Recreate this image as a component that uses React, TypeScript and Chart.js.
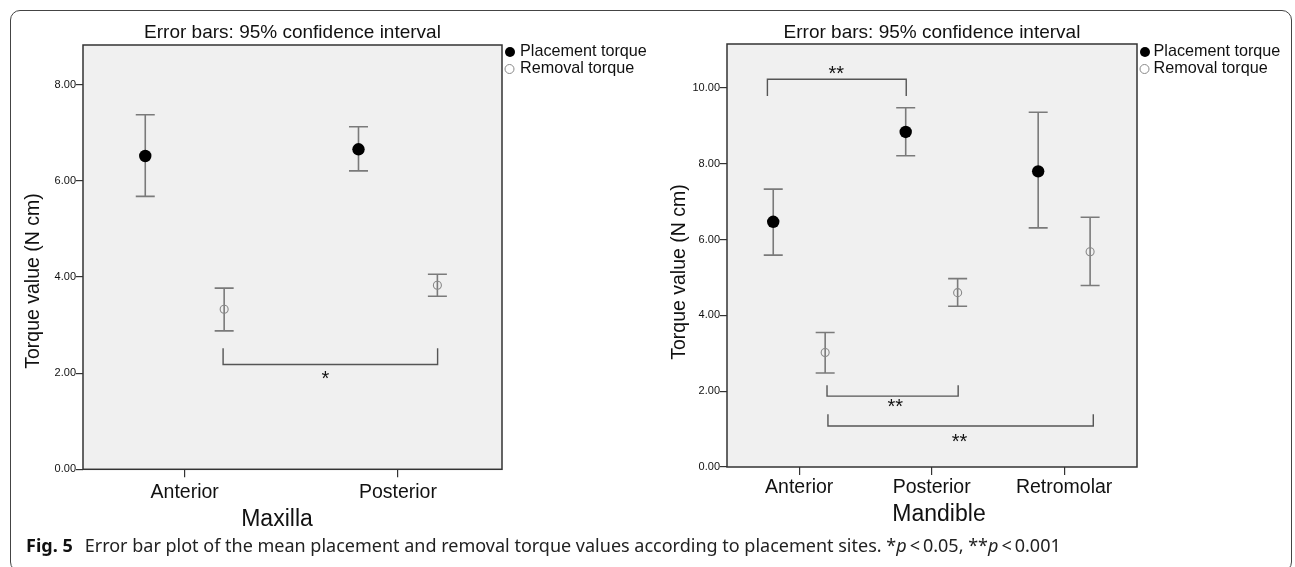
import React, { useEffect, useRef } from 'react';
import { Chart, registerables } from 'chart.js';

Chart.register(...registerables);

// ---------- data ----------
const seriesNames = ['Placement torque', 'Removal torque'];
const chartTitle = 'Error bars: 95% confidence interval';
const yAxisTitle = 'Torque value (N cm)';

const maxillaSites = ['Anterior', 'Posterior'];
const maxillaPlacementMean = [6.52, 6.66];
const maxillaPlacementLow = [5.68, 6.21];
const maxillaPlacementHigh = [7.38, 7.13];
const maxillaRemovalMean = [3.33, 3.83];
const maxillaRemovalLow = [2.88, 3.6];
const maxillaRemovalHigh = [3.77, 4.06];
const maxillaYTicks = [0, 2, 4, 6, 8];
const maxillaYMax = 8.83;

const mandibleSites = ['Anterior', 'Posterior', 'Retromolar'];
const mandiblePlacementMean = [6.47, 8.84, 7.8];
const mandiblePlacementLow = [5.59, 8.21, 6.31];
const mandiblePlacementHigh = [7.33, 9.48, 9.36];
const mandibleRemovalMean = [3.02, 4.6, 5.68];
const mandibleRemovalLow = [2.48, 4.24, 4.79];
const mandibleRemovalHigh = [3.55, 4.97, 6.59];
const mandibleYTicks = [0, 2, 4, 6, 8, 10];
const mandibleYMax = 11.16;

type Bracket = { from: number; to: number; level: number; end: number; mark: string; markX: number; markY: number };
const maxillaBrackets: Bracket[] = [
  { from: 0.18, to: 1.186, level: 2.18, end: 2.52, mark: '*', markX: 0.66, markY: 1.95 },
];
const mandibleBrackets: Bracket[] = [
  { from: -0.24, to: 0.808, level: 10.23, end: 9.79, mark: '**', markX: 0.28, markY: 10.45 },
  { from: 0.21, to: 1.2, level: 1.87, end: 2.16, mark: '**', markX: 0.725, markY: 1.68 },
  { from: 0.217, to: 2.22, level: 1.08, end: 1.39, mark: '**', markX: 1.21, markY: 0.76 },
];

const FONT = '"Liberation Sans", Arial, sans-serif';

const decorPlugin = {
  id: 'panelDecor',
  beforeDraw(chart: any) {
    const { ctx, chartArea: a } = chart;
    ctx.save();
    ctx.fillStyle = '#f0f0f0';
    ctx.fillRect(a.left, a.top, a.right - a.left, a.bottom - a.top);
    ctx.restore();
  },
  beforeDatasetsDraw(chart: any) {
    const { ctx } = chart;
    const ys = chart.scales.y;
    chart.data.datasets.forEach((ds: any, i: number) => {
      const meta = chart.getDatasetMeta(i);
      ctx.save();
      ctx.strokeStyle = '#7a7a7a';
      ctx.lineWidth = 1.6;
      const cap = 9.5;
      meta.data.forEach((pt: any, j: number) => {
        const x = pt.x;
        const t = ys.getPixelForValue(ds.errHigh[j]);
        const b = ys.getPixelForValue(ds.errLow[j]);
        ctx.beginPath();
        ctx.moveTo(x, t);
        ctx.lineTo(x, b);
        ctx.moveTo(x - cap, t);
        ctx.lineTo(x + cap, t);
        ctx.moveTo(x - cap, b);
        ctx.lineTo(x + cap, b);
        ctx.stroke();
      });
      ctx.restore();
    });
  },
  afterDraw(chart: any, _a: any, o: any) {
    const { ctx, chartArea: a } = chart;
    const xs = chart.scales.x;
    const ys = chart.scales.y;
    ctx.save();
    // plot border
    ctx.strokeStyle = '#333';
    ctx.lineWidth = 1.5;
    ctx.strokeRect(a.left, a.top, a.right - a.left, a.bottom - a.top);

    // title
    ctx.fillStyle = '#111';
    ctx.font = `19px ${FONT}`;
    ctx.textAlign = 'center';
    ctx.textBaseline = 'middle';
    ctx.fillText(o.title, (a.left + a.right) / 2, 33);

    // legend
    ctx.textAlign = 'left';
    ctx.font = `16.2px ${FONT}`;
    const lx = a.right + 8;
    ctx.beginPath();
    ctx.arc(lx, 52, 5, 0, Math.PI * 2);
    ctx.fillStyle = '#000';
    ctx.fill();
    ctx.beginPath();
    ctx.arc(lx - 0.5, 69, 4.5, 0, Math.PI * 2);
    ctx.strokeStyle = '#888';
    ctx.lineWidth = 1;
    ctx.stroke();
    ctx.fillStyle = '#111';
    ctx.fillText(chart.data.datasets[0].label, lx + o.legendGap, 52);
    ctx.fillText(chart.data.datasets[1].label, lx + o.legendGap, 69);

    // axis titles
    ctx.textAlign = 'center';
    ctx.font = `23px ${FONT}`;
    ctx.fillText(o.xTitle, o.xTitleX, o.xTitleY);
    ctx.save();
    ctx.translate(o.yTitleX, o.yTitleY);
    ctx.rotate(-Math.PI / 2);
    ctx.font = `19.5px ${FONT}`;
    ctx.fillText(o.yTitle, 0, 0);
    ctx.restore();

    // significance brackets
    ctx.strokeStyle = '#555';
    ctx.lineWidth = 1.4;
    ctx.font = `20px ${FONT}`;
    (o.brackets as Bracket[]).forEach((br) => {
      const x1 = xs.getPixelForValue(br.from);
      const x2 = xs.getPixelForValue(br.to);
      const yl = ys.getPixelForValue(br.level);
      const ye = ys.getPixelForValue(br.end);
      ctx.beginPath();
      ctx.moveTo(x1, ye);
      ctx.lineTo(x1, yl);
      ctx.lineTo(x2, yl);
      ctx.lineTo(x2, ye);
      ctx.stroke();
      ctx.fillStyle = '#111';
      ctx.fillText(br.mark, xs.getPixelForValue(br.markX), ys.getPixelForValue(br.markY) + 4);
    });
    ctx.restore();
  },
};

type PanelProps = {
  sites: string[];
  pMean: number[]; pLow: number[]; pHigh: number[];
  rMean: number[]; rLow: number[]; rHigh: number[];
  yTicks: number[]; yMax: number;
  brackets: Bracket[];
  xTitle: string;
  lay: {
    left: number; width: number; height: number; padRight: number; padTop: number;
    yAxisWidth: number; xAxisHeight: number; xMin: number; xMax: number; offset: number;
    yTitleX: number; yTitleY: number; xTitleX: number; xTitleY: number; xTickPad: number; legendGap: number;
  };
};

function Panel(p: PanelProps) {
  const ref = useRef<HTMLCanvasElement | null>(null);
  useEffect(() => {
    if (!ref.current) return;
    const L = p.lay;
    const chart = new Chart(ref.current, {
      type: 'scatter',
      data: {
        datasets: [
          {
            label: seriesNames[0],
            data: p.pMean.map((v, i) => ({ x: i - L.offset, y: v })),
            errLow: p.pLow, errHigh: p.pHigh,
            pointRadius: 6.2,
            pointBackgroundColor: '#000',
            pointBorderColor: '#000',
            pointBorderWidth: 0,
          } as any,
          {
            label: seriesNames[1],
            data: p.rMean.map((v, i) => ({ x: i + L.offset, y: v })),
            errLow: p.rLow, errHigh: p.rHigh,
            pointRadius: 4,
            pointBackgroundColor: 'rgba(0,0,0,0)',
            pointBorderColor: '#888',
            pointBorderWidth: 1.1,
          } as any,
        ],
      },
      options: {
        animation: false,
        responsive: false,
        events: [],
        layout: { padding: { left: 0, right: L.padRight, top: L.padTop, bottom: 0 } },
        plugins: {
          legend: { display: false },
          tooltip: { enabled: false },
          title: { display: false },
          panelDecor: {
            title: chartTitle,
            xTitle: p.xTitle,
            yTitle: yAxisTitle,
            xTitleX: L.xTitleX, xTitleY: L.xTitleY,
            yTitleX: L.yTitleX, yTitleY: L.yTitleY,
            brackets: p.brackets,
            legendGap: L.legendGap,
          },
        } as any,
        scales: {
          x: {
            type: 'linear',
            min: L.xMin,
            max: L.xMax,
            border: { display: false },
            grid: { drawOnChartArea: false, drawTicks: true, tickLength: 8, tickColor: '#333', lineWidth: 1.2 },
            afterBuildTicks: (s: any) => { s.ticks = p.sites.map((_, i) => ({ value: i })); },
            afterFit: (s: any) => { s.height = L.xAxisHeight; },
            ticks: {
              autoSkip: false, maxRotation: 0, padding: L.xTickPad, color: '#111',
              font: { family: FONT, size: 19.5 },
              callback: (v: any) => p.sites[Math.round(Number(v))] ?? '',
            },
          },
          y: {
            type: 'linear',
            min: 0,
            max: p.yMax,
            border: { display: false },
            grid: { drawOnChartArea: false, drawTicks: true, tickLength: 7, tickColor: '#333', lineWidth: 1.2 },
            afterBuildTicks: (s: any) => { s.ticks = p.yTicks.map((v) => ({ value: v })); },
            afterFit: (s: any) => { s.width = L.yAxisWidth; },
            ticks: {
              padding: 0, color: '#111',
              font: { family: FONT, size: 11 },
              callback: (v: any) => Number(v).toFixed(2),
            },
          },
        },
      },
      plugins: [decorPlugin as any],
    });
    return () => chart.destroy();
  }, []);
  return (
    <canvas
      ref={ref}
      width={p.lay.width}
      height={p.lay.height}
      style={{ position: 'absolute', left: p.lay.left, top: 0, width: p.lay.width, height: p.lay.height }}
    />
  );
}

export default function App() {
  return (
    <div style={{ position: 'fixed', left: 0, top: 0, width: 1295, height: 567, background: '#fff', overflow: 'hidden' }}>
      <div style={{ position: 'absolute', left: 10, top: 10, width: 1282, height: 562, border: '1px solid #444', borderRadius: 10, boxSizing: 'border-box' }} />
      <Panel
        sites={maxillaSites}
        pMean={maxillaPlacementMean} pLow={maxillaPlacementLow} pHigh={maxillaPlacementHigh}
        rMean={maxillaRemovalMean} rLow={maxillaRemovalLow} rHigh={maxillaRemovalHigh}
        yTicks={maxillaYTicks} yMax={maxillaYMax}
        brackets={maxillaBrackets}
        xTitle="Maxilla"
        lay={{ left: 0, width: 648, height: 545, padRight: 146, padTop: 45, yAxisWidth: 83, xAxisHeight: 75.7,
          xMin: -0.477, xMax: 1.488, offset: 0.185, yTitleX: 34, yTitleY: 281, xTitleX: 277, xTitleY: 520, xTickPad: 3.5, legendGap: 10 }}
      />
      <Panel
        sites={mandibleSites}
        pMean={mandiblePlacementMean} pLow={mandiblePlacementLow} pHigh={mandiblePlacementHigh}
        rMean={mandibleRemovalMean} rLow={mandibleRemovalLow} rHigh={mandibleRemovalHigh}
        yTicks={mandibleYTicks} yMax={mandibleYMax}
        brackets={mandibleBrackets}
        xTitle="Mandible"
        lay={{ left: 648, width: 647, height: 545, padRight: 158, padTop: 44, yAxisWidth: 79, xAxisHeight: 78,
          xMin: -0.545, xMax: 2.55, offset: 0.196, yTitleX: 32, yTitleY: 272, xTitleX: 291, xTitleY: 515, xTickPad: 0.5, legendGap: 8.5 }}
      />
      <div style={{ position: 'absolute', left: 26, top: 533, whiteSpace: 'nowrap', fontFamily: '"Noto Sans", sans-serif', fontSize: 18, lineHeight: '24px', color: '#222' }}>
        <span style={{ fontWeight: 700, color: '#111' }}>Fig. 5</span>
        <span style={{ marginLeft: 12 }}>
          Error bar plot of the mean placement and removal torque values according to placement sites. *<i>p</i>{'\u2009'}&lt;{'\u2009'}0.05, **<i>p</i>{'\u2009'}&lt;{'\u2009'}0.001
        </span>
      </div>
    </div>
  );
}
